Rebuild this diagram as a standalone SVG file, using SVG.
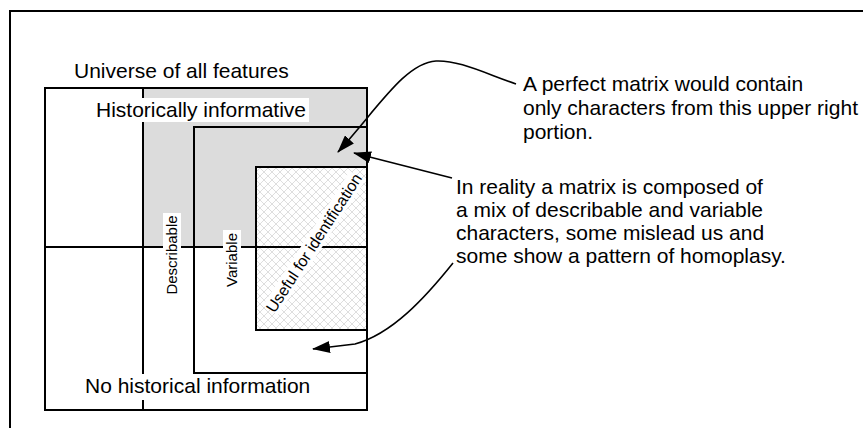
<svg xmlns="http://www.w3.org/2000/svg" width="863" height="428" viewBox="0 0 863 428">
<style>
.t{font-family:"Liberation Sans",Arial,sans-serif;font-size:21px;fill:#000}
.s{font-family:"Liberation Sans",Arial,sans-serif;font-size:15px;fill:#000}
.ln{fill:none;stroke:#000;stroke-width:2}
.cn{fill:none;stroke:#000;stroke-width:1.6}
</style>
<defs>
<pattern id="hatch" width="8" height="8" patternUnits="userSpaceOnUse">
<rect width="8" height="8" fill="#fff"/>
<path d="M0 4 L4 0 L8 4 L4 8 Z" fill="none" stroke="#d6d6d6" stroke-width="0.8"/>
</pattern>
<marker id="arr" viewBox="0 0 18 12" refX="17" refY="6" markerWidth="18" markerHeight="12" orient="auto" markerUnits="userSpaceOnUse">
<path d="M0 0 L18 6 L0 12 Z" fill="#000"/>
</marker>
</defs>
<rect width="863" height="428" fill="#fff"/>
<path class="ln" d="M10 430 V11 H865"/>
<g id="universe">
<text class="t" x="74" y="78">Universe of all features</text>
<rect x="143" y="88" width="224" height="159" fill="#dcdcdc"/>
<rect x="45" y="88" width="322" height="322" class="ln"/>
<line x1="143" y1="88" x2="143" y2="410" class="ln"/>
<line x1="45" y1="247" x2="367" y2="247" class="ln"/>
</g>
<g id="variable">
<rect x="194" y="127" width="173" height="246" class="ln"/>
</g>
<g id="useful">
<rect x="256" y="167" width="111" height="163" fill="url(#hatch)"/>
<line x1="256" y1="247" x2="367" y2="247" class="ln"/>
<rect x="256" y="167" width="111" height="163" class="ln"/>
</g>
<g id="historically">
<rect x="95" y="98" width="214" height="24" fill="#fff"/>
<text class="t" x="96" y="117">Historically informative</text>
</g>
<g id="nohist">
<rect x="83" y="374" width="232" height="26" fill="#fff"/>
<text class="t" x="85" y="393">No historical information</text>
</g>
<g id="describable" transform="translate(172 255) rotate(-90)">
<rect x="-42" y="-9" width="84" height="18" fill="#fff"/>
<text class="s" x="0" y="5" text-anchor="middle">Describable</text>
</g>
<g id="variablelabel" transform="translate(232 260) rotate(-90)">
<rect x="-30" y="-9" width="60" height="18" fill="#fff"/>
<text class="s" x="0" y="5" text-anchor="middle">Variable</text>
</g>
<g id="usefullabel" transform="translate(314 243) rotate(-57)">
<rect x="-80" y="-9" width="160" height="18" fill="#fff"/>
<text class="s" x="0" y="5.5" text-anchor="middle" style="font-size:16px">Useful for identification</text>
</g>
<g id="note1">
<text class="t" x="523" y="91">A perfect matrix would contain</text>
<text class="t" x="523" y="115">only characters from this upper right</text>
<text class="t" x="523" y="139">portion.</text>
</g>
<g id="note2">
<text class="t" x="456" y="194">In reality a matrix is composed of</text>
<text class="t" x="456" y="217">a mix of describable and variable</text>
<text class="t" x="456" y="240">characters, some mislead us and</text>
<text class="t" x="456" y="263">some show a pattern of homoplasy.</text>
</g>
<g id="connectors">
<path class="cn" d="M516 84 C482 72 458 60 436 61 C405 63 378 108 338 152" marker-end="url(#arr)"/>
<path class="cn" d="M452 178 L354 153" marker-end="url(#arr)"/>
<path class="cn" d="M453 263 C425 298 392 334 355 344 L313 349" marker-end="url(#arr)"/>
</g>
</svg>
